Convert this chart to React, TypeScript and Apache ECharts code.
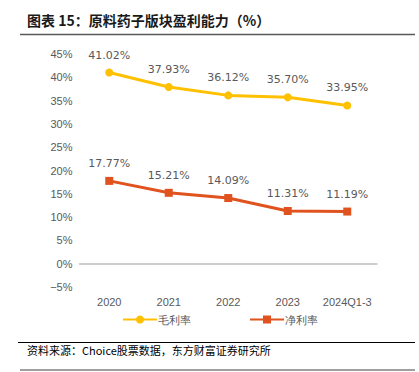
import React, { useEffect, useRef } from "react";
import * as echarts from "echarts";

const categories = ["2020", "2021", "2022", "2023", "2024Q1-3"];
const grossMargin = [41.02, 37.93, 36.12, 35.7, 33.95];
const netMargin = [17.77, 15.21, 14.09, 11.31, 11.19];
const seriesNames = ["毛利率", "净利率"];
const titleText = "图表 15：原料药子版块盈利能力（%）";
const sourceText = "资料来源：Choice股票数据，东方财富证券研究所";

export default function App() {
  const ref = useRef<HTMLDivElement>(null);
  useEffect(() => {
    if (!ref.current) return;
    const chart = echarts.init(ref.current, null, { renderer: "svg" });
    const labelStyle = {
      show: true,
      position: "top" as const,
      distance: 8,
      color: "#595959",
      fontSize: 11,
      fontFamily: "DejaVu Sans",
      formatter: (p: any) => p.value.toFixed(2) + "%",
    };
    chart.setOption({
      animation: false,
      backgroundColor: "#ffffff",
      grid: { left: 79.5, right: 42, top: 54, bottom: 85, containLabel: false },
      xAxis: {
        type: "category",
        data: categories,
        boundaryGap: true,
        axisLine: { show: true, lineStyle: { color: "#BFBFBF", width: 1.5 } },
        axisTick: { show: false },
        axisLabel: { color: "#595959", fontSize: 11, margin: 9, interval: 0, fontFamily: "Liberation Sans" },
      },
      yAxis: {
        type: "value",
        min: -5,
        max: 45,
        interval: 5,
        axisLine: { show: false },
        axisTick: { show: false },
        splitLine: { show: false },
        axisLabel: {
          color: "#595959",
          fontSize: 11,
          margin: 7,
          fontFamily: "Liberation Sans",
          formatter: (v: number) => (v < 0 ? "−" + Math.abs(v) : v) + "%",
        },
      },
      legend: {
        bottom: 42,
        left: 117,
        itemGap: 58,
        itemWidth: 34,
        itemHeight: 10,
        textStyle: { color: "#595959", fontSize: 11, padding: [0, 0, 0, -4] },
        data: [seriesNames[0], seriesNames[1]],
      },
      series: [
        {
          name: seriesNames[0],
          type: "line",
          data: grossMargin,
          color: "#FFC000",
          symbol: "circle",
          symbolSize: 8,
          lineStyle: { width: 3, color: "#FFC000" },
          itemStyle: { color: "#FFC000" },
          label: labelStyle,
        },
        {
          name: seriesNames[1],
          type: "line",
          data: netMargin,
          color: "#E0521E",
          symbol: "rect",
          symbolSize: 8,
          lineStyle: { width: 3, color: "#E0521E" },
          itemStyle: { color: "#E0521E" },
          label: labelStyle,
        },
      ],
      graphic: [
        {
          type: "text",
          left: 27,
          top: 13,
          style: {
            text: titleText,
            fill: "#1a1a1a",
            font: "bold 14px 'Noto Sans CJK SC'",
          },
        },
        {
          type: "line",
          shape: { x1: 20, y1: 34.5, x2: 415, y2: 34.5 },
          style: { stroke: "#595959", lineWidth: 1.5 },
        },
        {
          type: "line",
          shape: { x1: 18, y1: 342.5, x2: 415, y2: 342.5 },
          style: { stroke: "#000000", lineWidth: 1 },
        },
        {
          type: "text",
          left: 27,
          top: 344,
          style: {
            text: sourceText,
            fill: "#000000",
            font: "11px 'Noto Sans CJK SC'",
          },
        },
        {
          type: "line",
          shape: { x1: 20, y1: 370, x2: 415, y2: 370 },
          style: { stroke: "#808080", lineWidth: 1.5 },
        },
      ],
    });
    return () => chart.dispose();
  }, []);
  return <div ref={ref} style={{ width: 419, height: 372, position: "absolute", left: 0, top: 0 }} />;
}
